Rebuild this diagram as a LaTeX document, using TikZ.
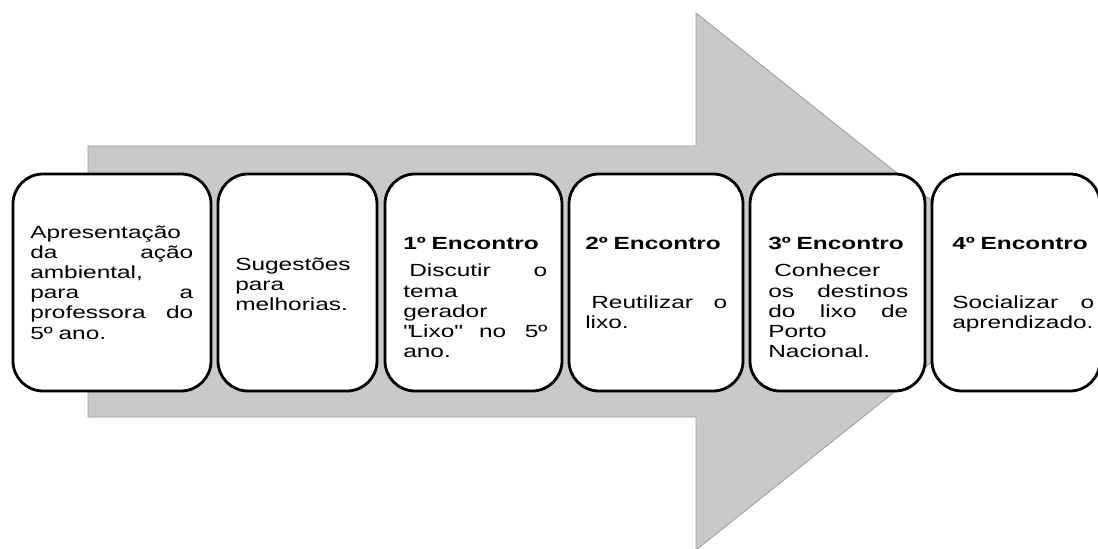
\documentclass[tikz,border=0pt]{standalone}
\usepackage{fontspec}
\setmainfont{Liberation Sans}[FakeStretch=1.39]

\definecolor{cinza}{RGB}{201,201,201}
\definecolor{cinzaborda}{RGB}{160,160,160}
\hyphenpenalty=10000

\begin{document}
\begin{tikzpicture}
\tikzstyle{caixa}=[draw,line width=2pt,rounded corners=0.75cm,fill=white,minimum height=5.425cm,inner sep=0pt]
\tikzstyle{texto}=[align=left,inner sep=0pt,anchor=base west,font=\fontsize{12.5}{14.4}\selectfont]

\useasboundingbox (0,0) rectangle (27.45,13.7);

% seta de fundo
\draw[fill=cinza,draw=cinzaborda,line width=0.6pt] (2.2,10.05) -- (17.4,10.05) -- (17.4,13.375) -- (25.825,6.6625) -- (17.4,-0.05) -- (17.4,3.275) -- (2.2,3.275) -- cycle;

\node[caixa,minimum width=4.95cm] (c1) at (2.8,6.6375) {};
\node[caixa,minimum width=3.975cm] (c2) at (7.4375,6.6375) {};
\node[caixa,minimum width=4.425cm] (c3) at (11.8375,6.6375) {};
\node[caixa,minimum width=4.35cm] (c4) at (16.4,6.6375) {};
\node[caixa,minimum width=4.375cm] (c5) at (20.9375,6.6375) {};
\node[caixa,minimum width=4.2cm] (c6) at (25.4,6.6375) {};

\node[texto,text width=4.075cm] (t1) at (0.75,7.75) {Apresentação\\ da\hfill ação\\ ambiental,\\ para\hfill a\\ professora\hfill do\\ 5º ano.};
\node[texto,text width=3.1cm] (t2) at (5.875,6.95) {Sugestões\\ para\\ melhorias.};
\node[texto,text width=3.6cm] (t3) at (10.075,7.475) {\textbf{1º Encontro}\\[0.19cm] \hspace*{0.15cm}Discutir\hfill o\\ tema\\ gerador\\ \textquotedbl Lixo\textquotedbl\hfill no\hfill 5º\\ ano.};
\node[texto,text width=3.55cm] (t4) at (14.625,7.475) {\textbf{2º Encontro}\\[0.97cm] \hspace*{0.15cm}Reutilizar\hfill o\\ lixo.};
\node[texto,text width=3.5cm] (t5) at (19.2,7.475) {\textbf{3º Encontro}\\[0.19cm] \hspace*{0.15cm}Conhecer\\ os\hfill destinos\\ do\hfill lixo\hfill de\\ Porto\\ Nacional.};
\node[texto,text width=3.55cm] (t6) at (23.8,7.475) {\textbf{4º Encontro}\\[0.97cm] Socializar\hfill o\\ aprendizado.};
\end{tikzpicture}
\end{document}
